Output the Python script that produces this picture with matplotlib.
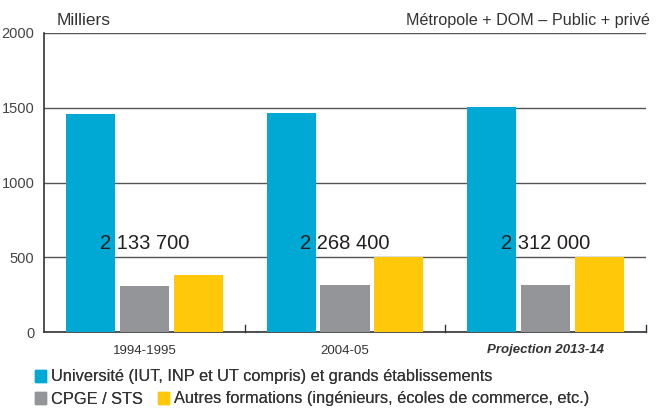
import matplotlib
matplotlib.use("Agg")
import matplotlib.pyplot as plt
from matplotlib.patches import Patch
import numpy as np

plt.rcParams['font.family'] = ['Liberation Sans', 'DejaVu Sans']

# Données (milliers d'étudiants)
annees = ["1994-1995", "2004-05", "Projection 2013-14"]
universite = [1455, 1468, 1502]
cpge_sts = [307, 313, 313]
autres = [378, 500, 500]
totaux = ["2 133 700", "2 268 400", "2 312 000"]

series_noms = [
    "Université (IUT, INP et UT compris) et grands établissements",
    "CPGE / STS",
    "Autres formations (ingénieurs, écoles de commerce, etc.)",
]
couleurs = ["#00A9D4", "#939598", "#FFC90A"]

fig = plt.figure(figsize=(6.56, 4.09), dpi=100)
ax = fig.add_axes([44 / 656, 1 - 332 / 409, 602 / 656, 299 / 409])

x = np.arange(len(annees))
larg = 0.245
pas = 0.268
for i, (vals, c) in enumerate(zip([universite, cpge_sts, autres], couleurs)):
    ax.bar(x + (i - 1) * pas, vals, width=larg, color=c, zorder=3)

for xi, t in zip(x, totaux):
    ax.text(xi, 590, t, ha="center", va="center", fontsize=14.5, color="#231F20", zorder=4)

ax.set_xlim(-0.5, 2.5)
ax.set_ylim(0, 2000)
ax.set_yticks([0, 500, 1000, 1500, 2000])
ax.set_yticklabels(["0", "500", "1000", "1500", "2000"])
ax.tick_params(axis="y", length=0, pad=7, labelsize=10.5, labelcolor="#444444")
ax.grid(axis="y", color="#555555", linewidth=1, zorder=1)

ax.set_xticks(x)
ax.set_xticklabels(annees, fontsize=9.5, color="#333333")
ax.tick_params(axis="x", length=0, pad=9)
ax.get_xticklabels()[2].set_fontstyle("italic")
ax.get_xticklabels()[2].set_fontweight("bold")
# petits traits de séparation entre groupes
for b in [0.5, 1.5, 2.5]:
    ax.plot([b, b], [0, 45], color="#333333", linewidth=1, clip_on=False, zorder=2)

for s in ["top", "right"]:
    ax.spines[s].set_visible(False)
ax.spines["left"].set_color("#333333")
ax.spines["bottom"].set_color("#333333")
ax.spines["left"].set_linewidth(1.2)
ax.spines["bottom"].set_linewidth(1.2)

fig.text(57 / 656, 1 - 25 / 409, "Milliers", fontsize=12.5, color="#333333", va="baseline")
fig.text(650 / 656, 1 - 25 / 409, "Métropole + DOM – Public + privé", fontsize=11.6,
         color="#333333", va="baseline", ha="right")

# légende : trois entrées placées comme dans l'original
handles = [Patch(color=c) for c in couleurs]
positions = [(35, 377), (35, 399), (158, 399)]
for h, nom, (px, py) in zip(handles, series_noms, positions):
    leg = fig.legend([h], [nom], loc="center left",
                     bbox_to_anchor=(px / 656, 1 - py / 409), frameon=False,
                     borderpad=0, borderaxespad=0,
                     fontsize=11.8, handlelength=0.65, handleheight=0.8,
                     handletextpad=0.35, labelcolor="#333333")
    fig.add_artist(leg)

fig.savefig("out.png", dpi=100)
